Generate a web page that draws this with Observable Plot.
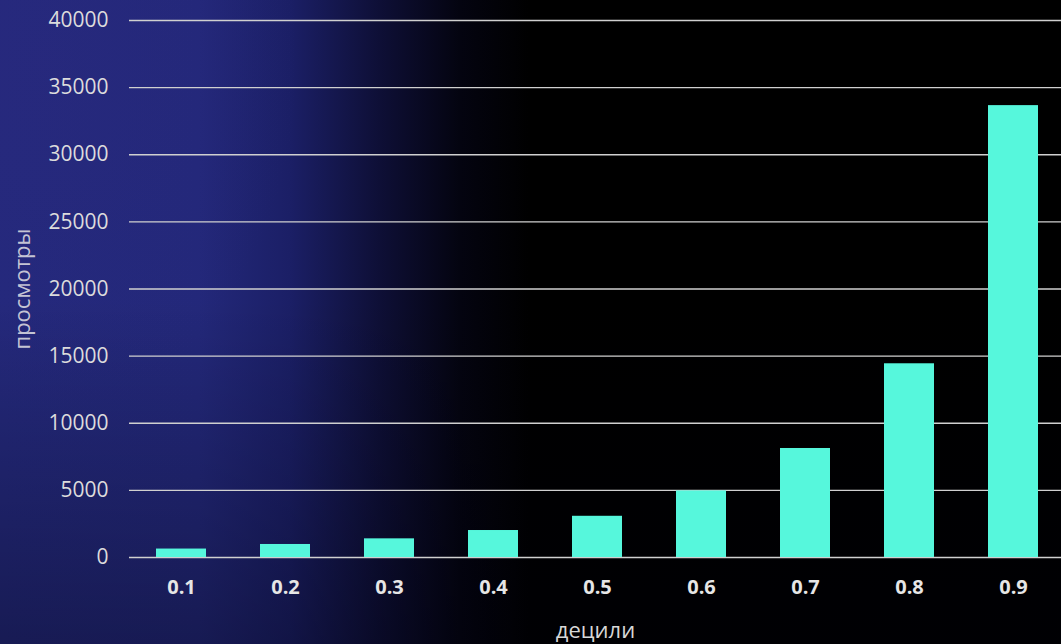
<!DOCTYPE html>
<html>
<head>
<meta charset="utf-8">
<script src="https://cdn.jsdelivr.net/npm/d3@7"></script>
<script src="https://cdn.jsdelivr.net/npm/@observablehq/plot@0.6"></script>
<style>
  html, body { margin: 0; padding: 0; }
  body {
    width: 1061px; height: 644px; overflow: hidden;
    background:
      linear-gradient(to bottom, rgba(0,0,0,0) 0px, rgba(0,0,0,0) 300px, rgba(0,0,10,0.35) 644px),
      radial-gradient(ellipse 260px 360px at 40px 60px, rgba(50,40,130,0.2), rgba(50,40,130,0) 100%),
      linear-gradient(to right, #24297c 0px, #23287a 200px, #1b1f66 290px, #0e0f36 380px, #040410 460px, #000 530px, #000 1061px);
  }
  #chart svg { display: block; background: transparent; }
</style>
</head>
<body>
<div id="chart"></div>
<script>
const deciles = ["0.1","0.2","0.3","0.4","0.5","0.6","0.7","0.8","0.9"];
const views = [630, 970, 1390, 2010, 3070, 4960, 8120, 14430, 33660];
const yTicks = [0, 5000, 10000, 15000, 20000, 25000, 30000, 35000, 40000];

const data = deciles.map((d, i) => ({decile: d, views: views[i]}));

const chart = Plot.plot({
  width: 1061,
  height: 644,
  marginLeft: 129,
  marginRight: 0,
  marginTop: 20,
  marginBottom: 87,
  style: {background: "transparent", color: "#e0e0e0", fontFamily: "Open Sans, sans-serif"},
  x: {domain: deciles, range: [155, 1038.5], paddingInner: 0.515, paddingOuter: 0, label: null},
  y: {domain: [0, 40000], label: null},
  marks: [
    Plot.ruleY(yTicks, {stroke: "#d0d0d0", strokeWidth: 1.3}),
    Plot.barY(data, {x: "decile", y: "views", fill: "#56f7dc"}),
    Plot.axisY(yTicks, {tickSize: 0, tickPadding: 21, fontSize: 21, fill: "#dcdcdc", tickFormat: d => String(d)}),
    Plot.axisX({tickSize: 0, tickPadding: 22, fontSize: 20, fontWeight: "bold", fill: "#e6e6e6"}),
    Plot.text(["просмотры"], {frameAnchor: "left", dx: -107, rotate: -90, textAnchor: "middle", fontSize: 22, fill: "#c4c4d4", text: d => d}),
    Plot.text(["децили"], {frameAnchor: "bottom", dy: 80, fontSize: 22, fill: "#d8d8d8", text: d => d})
  ]
});
document.getElementById("chart").append(chart);
</script>
</body>
</html>
